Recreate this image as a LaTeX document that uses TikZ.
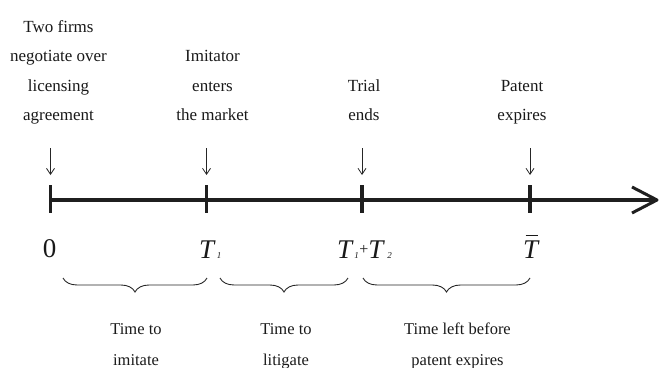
\documentclass[tikz,border=0pt]{standalone}
\usepackage{fontspec}
\setmainfont{Liberation Serif}
\usetikzlibrary{arrows.meta,decorations.pathreplacing}
% tiny italic index used in the time labels
\newcommand\tidx[1]{{\fontsize{9}{9}\selectfont\textit{#1}}}
\begin{document}
\begin{tikzpicture}[x=1pt,y=-1pt,
  every node/.style={inner sep=0pt, text=black!90},
  evt/.style={anchor=base, font=\fontsize{17}{17}\selectfont},
  span/.style={anchor=base, font=\fontsize{16.5}{16.5}\selectfont},
  tlabel/.style={anchor=base west, font=\fontsize{27}{27}\selectfont},
  axisline/.style={line width=3.2pt, draw=black!88},
  tickmark/.style={line width=3.4pt, draw=black!88},
  pointer/.style={line width=0.8pt, draw=black!85, -{Straight Barb[length=6pt,width=8pt]}},
  bracedec/.style={decorate, decoration={brace, mirror, amplitude=14pt}, line width=0.9pt, draw=black!85}]

\useasboundingbox (0,0) rectangle (672,367);

% points on the time axis
\coordinate (t0) at (50.5,200);
\coordinate (t1) at (206.5,200);
\coordinate (t2) at (362,200);
\coordinate (t3) at (530,200);
\coordinate (tip) at (657,200);

% axis with open arrow head
\draw[axisline] (t0) -- (tip);
\draw[axisline, line width=3pt, line join=round] ([xshift=-25pt,yshift=13pt]tip) -- (tip) -- ([xshift=-25pt,yshift=-13pt]tip);

% ticks and event pointers
\foreach \t in {t0,t1,t2,t3}{
  \draw[tickmark] ([yshift=15pt]\t) -- ([yshift=-13pt]\t);
  \draw[pointer] ([yshift=52pt]\t) -- ([yshift=25pt]\t);
}

% event descriptions
\node[evt] (e0a) at (58.5,32) {Two firms};
\node[evt] (e0b) at (58.5,61.5) {negotiate over};
\node[evt] (e0c) at (58.5,91) {licensing};
\node[evt] (e0d) at (58.5,120.5) {agreement};

\node[evt] (e1a) at (212.5,61.5) {Imitator};
\node[evt] (e1b) at (212.5,91) {enters};
\node[evt] (e1c) at (212.5,120.5) {the market};

\node[evt] (e2a) at (364,91) {Trial};
\node[evt] (e2b) at (364,120.5) {ends};

\node[evt] (e3a) at (522,91) {Patent};
\node[evt] (e3b) at (522,120.5) {expires};

% dates below the axis
\node[anchor=base, font=\fontsize{27}{27}\selectfont] (d0) at (49.5,257) {0};
\node[tlabel] (d1) at (199,258) {\textit{T}\kern1pt\raisebox{-0.5pt}{\tidx{1}}};
\node[tlabel] (d2) at (337,258) {\textit{T}\kern0.5pt\raisebox{-0.5pt}{\tidx{1}}\kern0.5pt\raisebox{4pt}{\fontsize{16}{16}\selectfont +}\kern0pt\textit{T}\kern2.5pt\raisebox{-0.5pt}{\tidx{2}}};
\node[tlabel] (d3) at (523,258) {\makebox[0pt][l]{\hspace{2.5pt}\raisebox{22pt}{\rule{12pt}{1.1pt}}}\textit{T}};

% braces marking the periods
\coordinate (b1s) at (63,278);   \coordinate (b1e) at (207,278);
\coordinate (b2s) at (220,278);  \coordinate (b2e) at (348,278);
\coordinate (b3s) at (363,278);  \coordinate (b3e) at (530,278);
\draw[bracedec] (b1s) -- (b1e);
\draw[bracedec] (b2s) -- (b2e);
\draw[bracedec] (b3s) -- (b3e);

% period descriptions
\node[span] (p1a) at (136,334) {Time to};
\node[span] (p1b) at (136,365) {imitate};
\node[span] (p2a) at (286,334) {Time to};
\node[span] (p2b) at (286,365) {litigate};
\node[span] (p3a) at (457.5,334) {Time left before};
\node[span] (p3b) at (457.5,365) {patent expires};
\end{tikzpicture}
\end{document}
